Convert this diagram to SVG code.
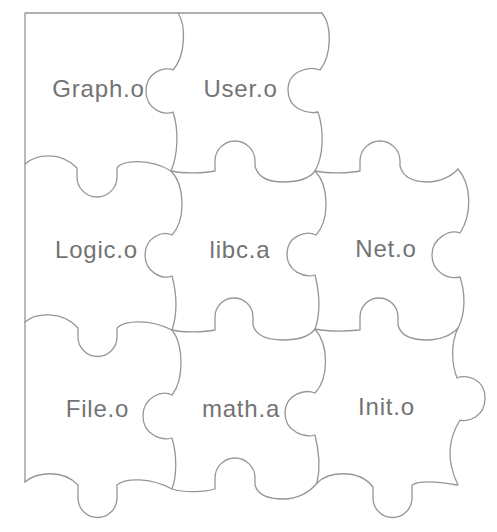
<svg xmlns="http://www.w3.org/2000/svg" width="497" height="532" viewBox="0 0 497 532">
<style>
.edge{fill:none;stroke:#969696;stroke-width:1.3;stroke-linejoin:round;stroke-linecap:round}
.lbl{font-family:"Liberation Sans",Arial,Helvetica,sans-serif;font-size:24px;fill:#737373;text-anchor:middle;letter-spacing:0.8px}
</style>
<rect width="497" height="532" fill="#ffffff"/>
<g id="outlines">
<path class="edge" d="M25,482 V13 H322"/>
<path class="edge" d="M178,13 C186,25 186,55 173,70 C165,66 146,72 146,91 C146,110 165,116 173,112 C179,130 178,155 171,171"/>
<path class="edge" d="M322,13 C332,25 332,55 320,70 C310,66 288,70 288,90 C288,110 308,114 318,112 C324,130 324,155 315,171"/>
<path class="edge" d="M25,164 C35,155 60,150 77,168 L77,177 A20,20 0 0 0 117,177 L117,168 C122,160 150,158 171,171 C185,174 205,173 215,171 L215,161 A20,20 0 0 1 255,161 L255,166 C258,178 270,182 283,182 C298,182 310,178 315,171 C330,174 350,173 360,171 L360,161 A20,20 0 0 1 400,161 L400,166 C403,178 415,182 427,182 C440,182 452,176 458,169"/>
<path class="edge" d="M458,169 C472,185 472,215 460,233 C450,229 432,238 432,255 C432,272 448,280 460,277 C466,295 465,315 458,328"/>
<path class="edge" d="M171,171 C185,185 186,220 172,235 C162,230 145,238 145,255 C145,272 162,280 172,276 C177,295 177,315 172,330"/>
<path class="edge" d="M315,171 C329,185 330,220 316,235 C306,230 287,236 287,254 C287,272 305,278 315,275 C320,295 320,315 315,329"/>
<path class="edge" d="M25,322 C35,313 62,310 78,328 L78,337 A19.5,19.5 0 0 0 117,337 L117,328 C125,320 150,319 172,330 C185,333 205,332 215,330 L215,317 A19,19 0 0 1 253,317 L253,325 C256,337 270,340 283,340 C298,340 310,336 315,329 C330,332 350,331 360,330 L360,317 A19,19 0 0 1 398,317 L398,325 C401,337 414,340 427,340 C440,340 452,335 458,328"/>
<path class="edge" d="M458,328 C450,345 452,365 457,378 C465,374 485,378 485,398 C485,418 467,422 460,420 C448,440 446,460 458,485"/>
<path class="edge" d="M172,330 C184,345 184,380 172,395 C162,390 143,397 143,416 C143,435 162,441 172,438 C177,455 177,475 172,489"/>
<path class="edge" d="M315,329 C329,345 329,378 315,393 C305,389 285,394 285,413 C285,432 305,438 315,435 C320,455 320,470 317,483"/>
<path class="edge" d="M25,482 C35,473 62,468 78,485 L78,498 A19.5,19.5 0 0 0 117,498 L117,485 C125,478 150,477 172,489 C185,493 205,492 215,489 L215,478 A20,20 0 0 1 255,478 L255,485 C258,496 270,499 283,499 C298,499 310,492 317,483 C328,472 358,468 373,487 L373,498 A19.5,19.5 0 0 0 412,498 L412,485 C420,480 440,482 457,485"/>
</g>
<g id="graph_o"><text class="lbl" x="98.5" y="97">Graph.o</text></g>
<g id="user_o"><text class="lbl" x="240.5" y="97">User.o</text></g>
<g id="logic_o"><text class="lbl" x="96.5" y="258">Logic.o</text></g>
<g id="libc_a"><text class="lbl" x="240" y="258">libc.a</text></g>
<g id="net_o"><text class="lbl" x="386" y="257">Net.o</text></g>
<g id="file_o"><text class="lbl" x="97.5" y="417">File.o</text></g>
<g id="math_a"><text class="lbl" x="241" y="417">math.a</text></g>
<g id="init_o"><text class="lbl" x="386.5" y="415">Init.o</text></g>
</svg>
